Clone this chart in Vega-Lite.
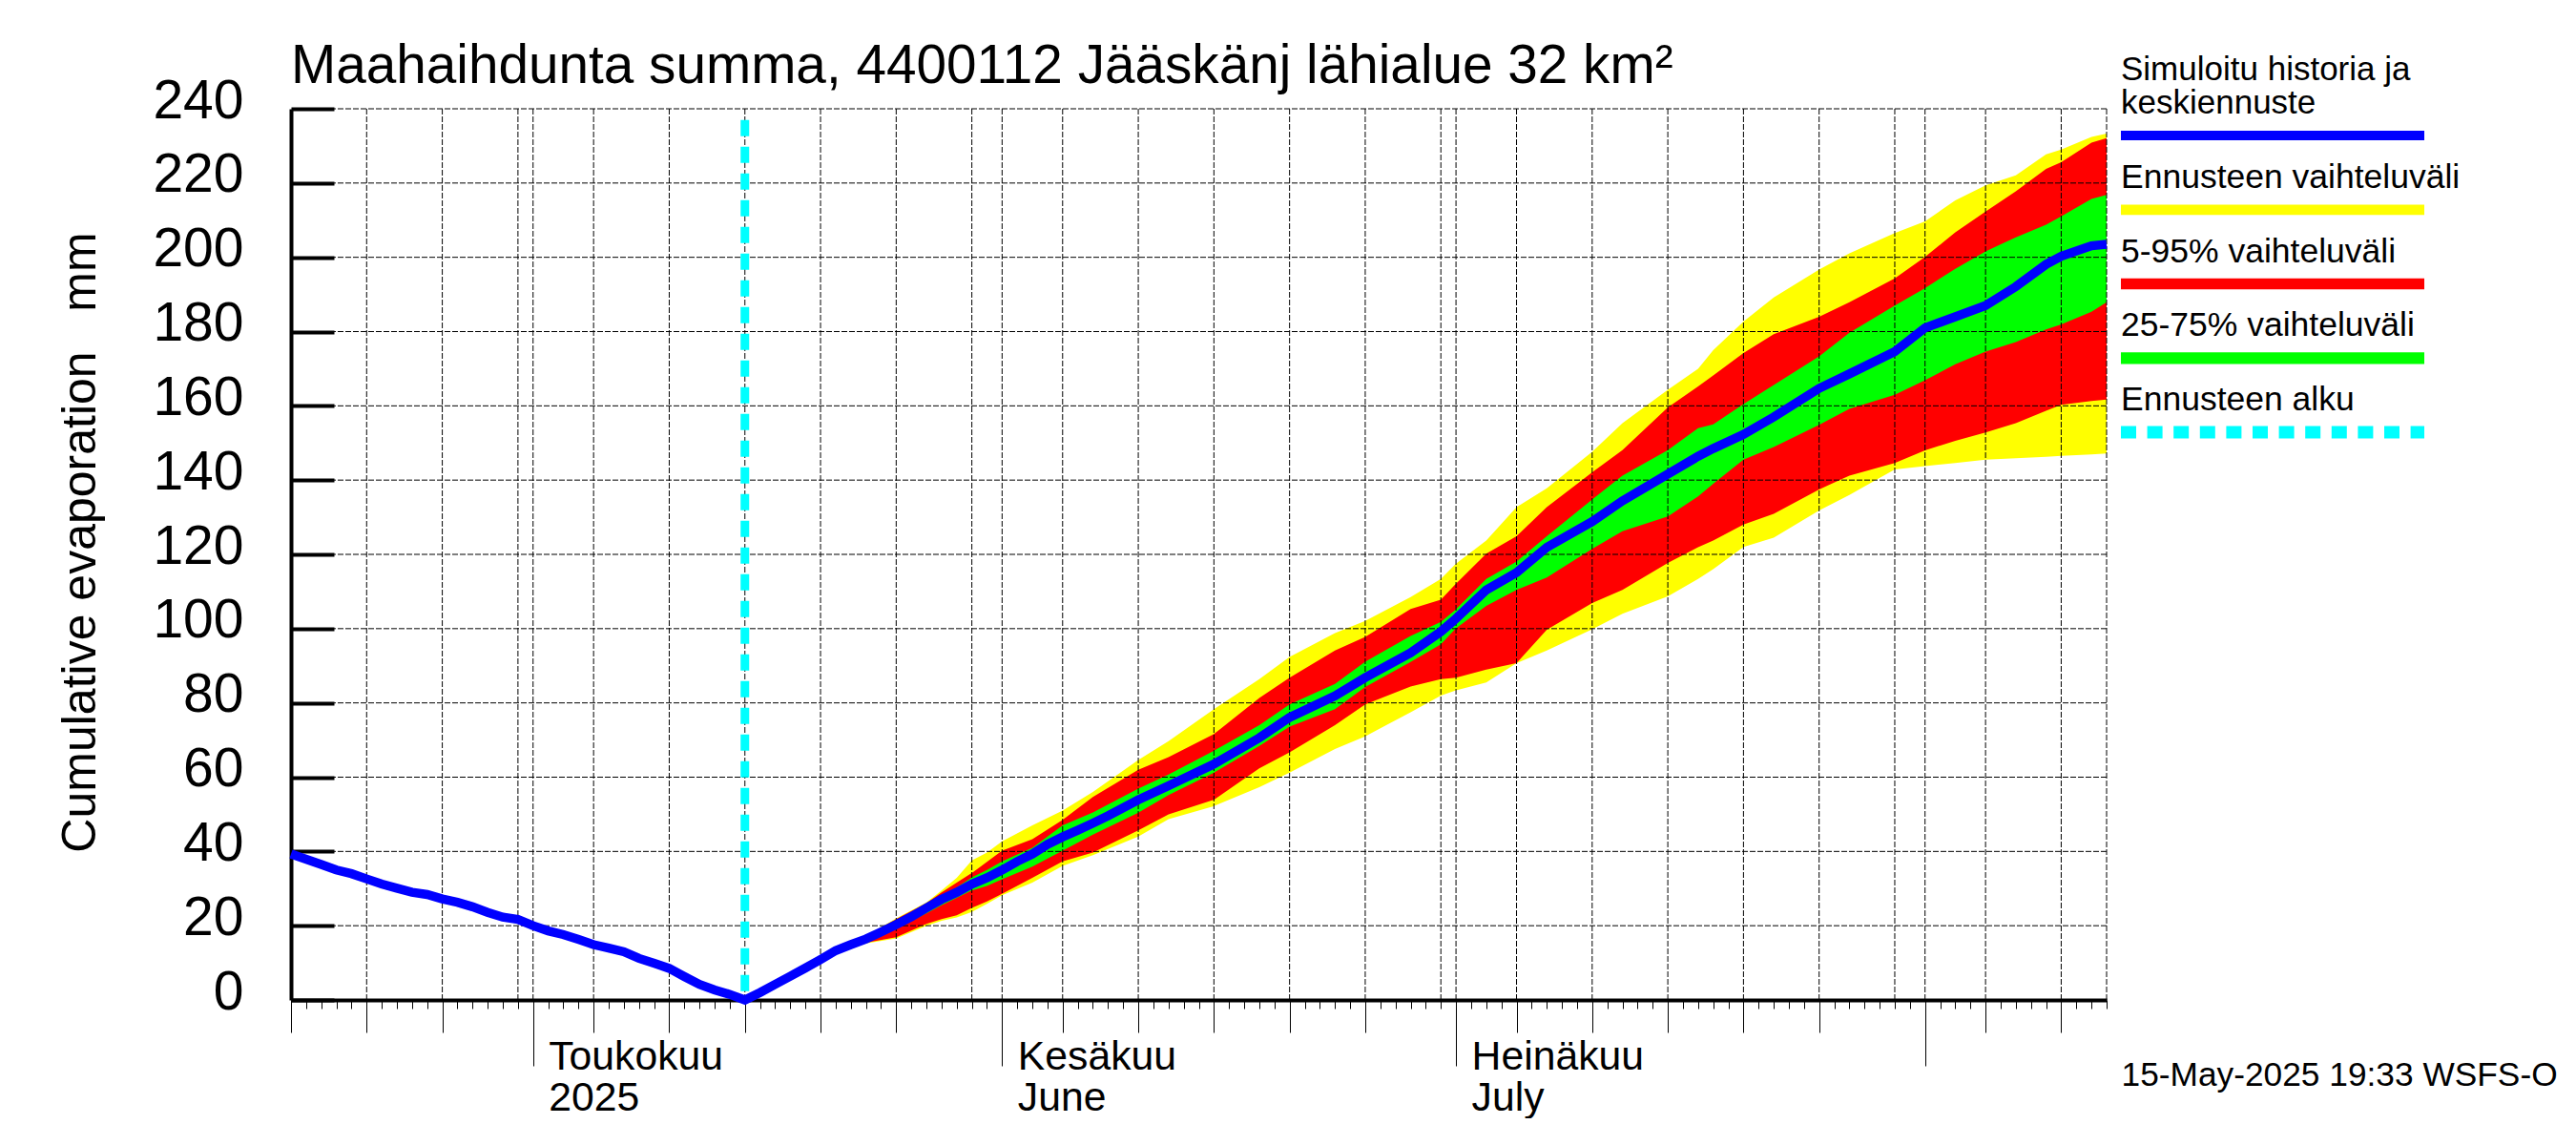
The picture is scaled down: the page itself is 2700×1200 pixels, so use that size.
{
  "$schema": "https://vega.github.io/schema/vega-lite/v6.json",
  "autosize": {"type": "pad"},
  "padding": {"left": 58, "top": 42, "right": 0, "bottom": 0},
  "background": "white",
  "config": {"font": "Liberation Sans", "view": {"stroke": null}},
  "datasets": {
    "simulated": [
      {"date": "2025-04-15", "value": 39.3}, {"date": "2025-04-16", "value": 37.9}, {"date": "2025-04-17", "value": 36.5},
      {"date": "2025-04-18", "value": 35.0}, {"date": "2025-04-19", "value": 34.0}, {"date": "2025-04-20", "value": 32.6},
      {"date": "2025-04-21", "value": 31.2}, {"date": "2025-04-22", "value": 30.1}, {"date": "2025-04-23", "value": 29.0},
      {"date": "2025-04-24", "value": 28.4}, {"date": "2025-04-25", "value": 27.2}, {"date": "2025-04-26", "value": 26.3},
      {"date": "2025-04-27", "value": 25.1}, {"date": "2025-04-28", "value": 23.6}, {"date": "2025-04-29", "value": 22.3},
      {"date": "2025-04-30", "value": 21.7}, {"date": "2025-05-01", "value": 20.0}, {"date": "2025-05-02", "value": 18.6},
      {"date": "2025-05-03", "value": 17.6}, {"date": "2025-05-04", "value": 16.3}, {"date": "2025-05-05", "value": 14.9},
      {"date": "2025-05-06", "value": 14.0}, {"date": "2025-05-07", "value": 13.0}, {"date": "2025-05-08", "value": 11.2},
      {"date": "2025-05-09", "value": 9.9}, {"date": "2025-05-10", "value": 8.5}, {"date": "2025-05-11", "value": 6.3},
      {"date": "2025-05-12", "value": 4.2}, {"date": "2025-05-13", "value": 2.7}, {"date": "2025-05-14", "value": 1.5},
      {"date": "2025-05-15", "value": 0}, {"date": "2025-05-16", "value": 2.0}, {"date": "2025-05-17", "value": 4.2},
      {"date": "2025-05-18", "value": 6.4}, {"date": "2025-05-19", "value": 8.6}, {"date": "2025-05-20", "value": 10.9},
      {"date": "2025-05-21", "value": 13.3}, {"date": "2025-05-22", "value": 14.9}, {"date": "2025-05-23", "value": 16.4},
      {"date": "2025-05-24", "value": 18.3}, {"date": "2025-05-25", "value": 20.3}, {"date": "2025-05-26", "value": 22.4},
      {"date": "2025-05-27", "value": 24.8}, {"date": "2025-05-28", "value": 27.1}, {"date": "2025-05-29", "value": 29.0},
      {"date": "2025-05-30", "value": 31.2}, {"date": "2025-05-31", "value": 32.9}, {"date": "2025-06-01", "value": 35.0},
      {"date": "2025-06-02", "value": 37.3}, {"date": "2025-06-03", "value": 39.3}, {"date": "2025-06-04", "value": 41.9},
      {"date": "2025-06-05", "value": 43.9}, {"date": "2025-06-06", "value": 45.7}, {"date": "2025-06-07", "value": 47.6},
      {"date": "2025-06-08", "value": 49.6}, {"date": "2025-06-10", "value": 53.9}, {"date": "2025-06-12", "value": 57.7},
      {"date": "2025-06-15", "value": 63.5}, {"date": "2025-06-18", "value": 70.6}, {"date": "2025-06-20", "value": 76.1},
      {"date": "2025-06-23", "value": 81.9}, {"date": "2025-06-25", "value": 86.8}, {"date": "2025-06-28", "value": 93.5},
      {"date": "2025-06-30", "value": 99.2}, {"date": "2025-07-01", "value": 102.7}, {"date": "2025-07-03", "value": 110.4},
      {"date": "2025-07-05", "value": 115.1}, {"date": "2025-07-07", "value": 121.9}, {"date": "2025-07-10", "value": 128.8},
      {"date": "2025-07-12", "value": 134.4}, {"date": "2025-07-15", "value": 141.6}, {"date": "2025-07-17", "value": 146.4},
      {"date": "2025-07-18", "value": 148.5}, {"date": "2025-07-20", "value": 152.3}, {"date": "2025-07-22", "value": 157.0},
      {"date": "2025-07-25", "value": 164.7}, {"date": "2025-07-27", "value": 168.6}, {"date": "2025-07-30", "value": 174.6},
      {"date": "2025-08-01", "value": 181.0}, {"date": "2025-08-03", "value": 184.0}, {"date": "2025-08-05", "value": 187.0},
      {"date": "2025-08-07", "value": 192.1}, {"date": "2025-08-09", "value": 198.1}, {"date": "2025-08-10", "value": 200.3},
      {"date": "2025-08-12", "value": 203.1}, {"date": "2025-08-13", "value": 203.5}
    ],
    "bands": [
      {"date": "2025-05-21", "low": 12.4, "p5": 12.5, "p25": 12.9, "p75": 13.6, "p95": 13.7, "high": 13.8},
      {"date": "2025-05-23", "low": 15.2, "p5": 15.4, "p25": 15.9, "p75": 16.9, "p95": 17.1, "high": 17.3},
      {"date": "2025-05-25", "low": 16.6, "p5": 16.9, "p25": 19.2, "p75": 21.0, "p95": 21.8, "high": 22.0},
      {"date": "2025-05-27", "low": 20.0, "p5": 20.5, "p25": 23.3, "p75": 25.6, "p95": 26.1, "high": 26.3},
      {"date": "2025-05-28", "low": 21.3, "p5": 21.8, "p25": 25.5, "p75": 28.0, "p95": 29.0, "high": 29.5},
      {"date": "2025-05-29", "low": 22.2, "p5": 22.8, "p25": 27.5, "p75": 30.3, "p95": 31.6, "high": 32.9},
      {"date": "2025-05-30", "low": 23.7, "p5": 24.8, "p25": 29.5, "p75": 33.0, "p95": 34.2, "high": 37.6},
      {"date": "2025-05-31", "low": 25.9, "p5": 26.5, "p25": 30.7, "p75": 35.0, "p95": 37.2, "high": 39.7},
      {"date": "2025-06-01", "low": 28.2, "p5": 28.6, "p25": 32.5, "p75": 37.3, "p95": 40.2, "high": 42.7},
      {"date": "2025-06-03", "low": 31.6, "p5": 32.9, "p25": 35.9, "p75": 41.0, "p95": 43.3, "high": 47.0},
      {"date": "2025-06-05", "low": 36.1, "p5": 37.3, "p25": 40.2, "p75": 47.0, "p95": 48.5, "high": 51.0},
      {"date": "2025-06-07", "low": 39.0, "p5": 39.7, "p25": 44.5, "p75": 50.5, "p95": 54.7, "high": 56.0},
      {"date": "2025-06-10", "low": 44.0, "p5": 45.7, "p25": 50.4, "p75": 56.9, "p95": 62.0, "high": 64.6},
      {"date": "2025-06-12", "low": 48.7, "p5": 50.0, "p25": 55.2, "p75": 60.7, "p95": 65.4, "high": 69.7},
      {"date": "2025-06-15", "low": 52.2, "p5": 53.9, "p25": 61.2, "p75": 67.1, "p95": 71.6, "high": 78.3},
      {"date": "2025-06-18", "low": 57.3, "p5": 62.4, "p25": 68.4, "p75": 74.0, "p95": 81.3, "high": 86.4},
      {"date": "2025-06-20", "low": 61.2, "p5": 66.7, "p25": 73.6, "p75": 79.6, "p95": 86.8, "high": 92.4},
      {"date": "2025-06-23", "low": 67.6, "p5": 74.0, "p25": 78.3, "p75": 85.1, "p95": 94.1, "high": 98.8},
      {"date": "2025-06-25", "low": 71.0, "p5": 79.6, "p25": 84.3, "p75": 91.1, "p95": 97.8, "high": 102.1},
      {"date": "2025-06-28", "low": 77.5, "p5": 84.4, "p25": 91.0, "p75": 98.0, "p95": 105.3, "high": 108.5},
      {"date": "2025-06-30", "low": 82.0, "p5": 86.4, "p25": 95.8, "p75": 101.8, "p95": 107.8, "high": 113.4},
      {"date": "2025-07-01", "low": 83.4, "p5": 86.8, "p25": 100.1, "p75": 105.2, "p95": 112.1, "high": 117.5},
      {"date": "2025-07-03", "low": 85.5, "p5": 89.0, "p25": 106.1, "p75": 113.4, "p95": 120.2, "high": 123.7},
      {"date": "2025-07-05", "low": 90.7, "p5": 90.7, "p25": 110.4, "p75": 118.1, "p95": 124.9, "high": 132.7},
      {"date": "2025-07-07", "low": 94.1, "p5": 99.7, "p25": 113.8, "p75": 124.9, "p95": 132.7, "high": 137.8},
      {"date": "2025-07-10", "low": 99.8, "p5": 106.9, "p25": 121.5, "p75": 134.8, "p95": 142.1, "high": 147.6},
      {"date": "2025-07-12", "low": 104.0, "p5": 110.4, "p25": 126.2, "p75": 141.2, "p95": 148.1, "high": 155.3},
      {"date": "2025-07-15", "low": 108.7, "p5": 117.7, "p25": 130.2, "p75": 148.1, "p95": 159.6, "high": 164.3},
      {"date": "2025-07-17", "low": 113.4, "p5": 121.9, "p25": 135.6, "p75": 154.0, "p95": 165.2, "high": 170.0},
      {"date": "2025-07-18", "low": 116.0, "p5": 123.7, "p25": 139.0, "p75": 155.0, "p95": 168.2, "high": 175.0},
      {"date": "2025-07-20", "low": 122.0, "p5": 128.0, "p25": 145.5, "p75": 160.5, "p95": 174.2, "high": 182.7},
      {"date": "2025-07-22", "low": 124.5, "p5": 130.9, "p25": 148.9, "p75": 165.6, "p95": 179.3, "high": 189.2},
      {"date": "2025-07-25", "low": 131.8, "p5": 137.5, "p25": 154.9, "p75": 173.3, "p95": 184.0, "high": 196.7},
      {"date": "2025-07-27", "low": 136.0, "p5": 141.2, "p25": 159.2, "p75": 179.7, "p95": 187.9, "high": 201.1},
      {"date": "2025-07-30", "low": 142.9, "p5": 144.6, "p25": 163.0, "p75": 187.0, "p95": 194.3, "high": 206.5},
      {"date": "2025-08-01", "low": 143.8, "p5": 148.0, "p25": 166.9, "p75": 191.7, "p95": 200.1, "high": 209.7},
      {"date": "2025-08-03", "low": 144.6, "p5": 150.6, "p25": 171.2, "p75": 196.9, "p95": 206.7, "high": 215.3},
      {"date": "2025-08-05", "low": 145.5, "p5": 152.8, "p25": 174.6, "p75": 201.6, "p95": 212.3, "high": 219.4},
      {"date": "2025-08-07", "low": 145.9, "p5": 155.3, "p25": 177.2, "p75": 205.4, "p95": 217.8, "high": 222.1},
      {"date": "2025-08-09", "low": 146.3, "p5": 158.7, "p25": 180.6, "p75": 208.8, "p95": 223.8, "high": 227.7},
      {"date": "2025-08-10", "low": 146.5, "p5": 160.3, "p25": 181.9, "p75": 211.0, "p95": 225.6, "high": 229.0},
      {"date": "2025-08-12", "low": 146.9, "p5": 161.3, "p25": 185.3, "p75": 215.7, "p95": 230.9, "high": 232.4},
      {"date": "2025-08-13", "low": 147.2, "p5": 161.7, "p25": 187.9, "p75": 216.8, "p95": 232.1, "high": 233.3}
    ],
    "gridDates": [
      {"date": "2025-04-20"}, {"date": "2025-04-25"}, {"date": "2025-04-30"}, {"date": "2025-05-01"}, {"date": "2025-05-05"},
      {"date": "2025-05-10"}, {"date": "2025-05-15"}, {"date": "2025-05-20"}, {"date": "2025-05-25"}, {"date": "2025-05-30"},
      {"date": "2025-06-01"}, {"date": "2025-06-05"}, {"date": "2025-06-10"}, {"date": "2025-06-15"}, {"date": "2025-06-20"},
      {"date": "2025-06-25"}, {"date": "2025-06-30"}, {"date": "2025-07-01"}, {"date": "2025-07-05"}, {"date": "2025-07-10"},
      {"date": "2025-07-15"}, {"date": "2025-07-20"}, {"date": "2025-07-25"}, {"date": "2025-07-30"}, {"date": "2025-08-01"},
      {"date": "2025-08-05"}, {"date": "2025-08-10"}, {"date": "2025-08-13"}
    ],
    "gridValues": [
      {"value": 20}, {"value": 40}, {"value": 60}, {"value": 80}, {"value": 100}, {"value": 120},
      {"value": 140}, {"value": 160}, {"value": 180}, {"value": 200}, {"value": 220}, {"value": 240}
    ],
    "forecastStart": [{"date": "2025-05-15", "top": 237, "bottom": 0}],
    "legendRows": [
      {"series": "history", "label": "Simuloitu historia ja\nkeskiennuste"},
      {"series": "range", "label": "Ennusteen vaihteluväli"},
      {"series": "p5_95", "label": "5-95% vaihteluväli"},
      {"series": "p25_75", "label": "25-75% vaihteluväli"},
      {"series": "start", "label": "Ennusteen alku"}
    ]
  },
  "bounds": "flush",
  "spacing": 15,
  "hconcat": [
    {
      "width": 1903,
      "height": 934,
      "title": {
        "text": "Maahaihdunta summa, 4400112 Jääskänj lähialue 32 km²",
        "anchor": "start",
        "frame": "group",
        "font": "Liberation Sans",
        "fontSize": 56.7,
        "fontWeight": "normal",
        "baseline": "alphabetic",
        "offset": -67
      },
      "resolve": {"axis": {"x": "independent", "y": "independent"}},
      "layer": [
        {
          "data": {"name": "bands"},
          "mark": {"type": "area", "color": "#ffff00", "interpolate": "linear"},
          "encoding": {
            "x": {
              "field": "date",
              "type": "temporal",
              "scale": {"type": "utc", "domain": ["2025-04-15", "2025-08-13"]},
              "axis": {
                "orient": "bottom",
                "tickCount": {"interval": "day", "step": 1},
                "tickSize": 9,
                "tickWidth": 1,
                "tickColor": "black",
                "labels": false,
                "title": null,
                "grid": false,
                "domain": true,
                "domainColor": "black",
                "domainWidth": 4
              }
            },
            "y": {
              "field": "low",
              "type": "quantitative",
              "scale": {"domain": [0, 240], "nice": false},
              "axis": {
                "orient": "left",
                "values": [0, 20, 40, 60, 80, 100, 120, 140, 160, 180, 200, 220, 240],
                "tickSize": -45,
                "tickWidth": 4,
                "tickColor": "black",
                "domain": true,
                "domainColor": "black",
                "domainWidth": 4,
                "grid": false,
                "labelFont": "Liberation Sans",
                "labelFontSize": 57,
                "labelColor": "black",
                "labelPadding": 95,
                "labelOffset": -8,
                "labelOverlap": false,
                "labelBound": false,
                "labelFlush": false,
                "title": "Cumulative evaporation\u00a0\u00a0\u00a0mm",
                "titleFont": "Liberation Sans",
                "titleFontSize": 50,
                "titleFontWeight": "normal",
                "titleColor": "black",
                "titleAngle": -90,
                "titleBaseline": "alphabetic",
                "titleX": -206,
                "titleY": 454
              }
            },
            "y2": {"field": "high"}
          }
        },
        {
          "data": {"name": "bands"},
          "mark": {"type": "area", "color": "#ff0000", "interpolate": "linear"},
          "encoding": {
            "x": {"field": "date", "type": "temporal", "axis": null},
            "y": {"field": "p5", "type": "quantitative", "axis": null},
            "y2": {"field": "p95"}
          }
        },
        {
          "data": {"name": "bands"},
          "mark": {"type": "area", "color": "#00ff00", "interpolate": "linear"},
          "encoding": {
            "x": {"field": "date", "type": "temporal", "axis": null},
            "y": {"field": "p25", "type": "quantitative", "axis": null},
            "y2": {"field": "p75"}
          }
        },
        {
          "data": {"name": "gridValues"},
          "mark": {"type": "rule", "color": "black", "strokeWidth": 1, "strokeDash": [6, 2]},
          "encoding": {"y": {"field": "value", "type": "quantitative", "axis": null}}
        },
        {
          "data": {"name": "gridDates"},
          "mark": {"type": "rule", "color": "black", "strokeWidth": 1, "strokeDash": [6, 2]},
          "encoding": {
            "x": {
              "field": "date",
              "type": "temporal",
              "axis": {
                "orient": "bottom",
                "values": [
                  "2025-04-15", "2025-04-20", "2025-04-25", "2025-05-05", "2025-05-10", "2025-05-15", "2025-05-20", "2025-05-25",
                  "2025-06-05", "2025-06-10", "2025-06-15", "2025-06-20", "2025-06-25",
                  "2025-07-05", "2025-07-10", "2025-07-15", "2025-07-20", "2025-07-25",
                  "2025-08-05", "2025-08-10"
                ],
                "tickSize": 34,
                "tickWidth": 1,
                "tickColor": "black",
                "labels": false,
                "title": null,
                "grid": false,
                "domain": false
              }
            }
          }
        },
        {
          "data": {"name": "forecastStart"},
          "mark": {"type": "rule", "color": "#00ffff", "strokeWidth": 9, "strokeDash": [17, 11]},
          "encoding": {
            "x": {"field": "date", "type": "temporal", "axis": null},
            "y": {"field": "top", "type": "quantitative", "axis": null},
            "y2": {"field": "bottom"}
          }
        },
        {
          "data": {"name": "simulated"},
          "mark": {"type": "line", "color": "#0000ff", "strokeWidth": 9.5, "interpolate": "linear", "clip": false},
          "encoding": {
            "x": {
              "field": "date",
              "type": "temporal",
              "axis": {
                "orient": "bottom",
                "tickCount": {"interval": "month", "step": 1},
                "tickSize": 69,
                "tickWidth": 1,
                "tickColor": "black",
                "title": null,
                "grid": false,
                "domain": false,
                "labelFont": "Liberation Sans",
                "labelFontSize": 42.7,
                "labelColor": "black",
                "labelAlign": "left",
                "labelBaseline": "alphabetic",
                "labelPadding": 3,
                "labelOffset": 16,
                "labelLineHeight": 43,
                "labelLimit": 0,
                "labelOverlap": false,
                "labelBound": false,
                "labelFlush": false,
                "labelExpr": "utcmonth(datum.value) == 4 ? ['Toukokuu', '2025'] : utcmonth(datum.value) == 5 ? ['Kesäkuu', 'June'] : utcmonth(datum.value) == 6 ? ['Heinäkuu', 'July'] : ''"
              }
            },
            "y": {"field": "value", "type": "quantitative", "axis": null}
          }
        }
      ]
    },
    {
      "width": 318,
      "height": 934,
      "data": {"name": "legendRows"},
      "layer": [
        {
          "mark": {"type": "rule", "strokeCap": "butt"},
          "encoding": {
            "x": {
              "datum": 0,
              "type": "quantitative",
              "scale": {"domain": [0, 1]},
              "axis": {
                "orient": "bottom",
                "domain": false,
                "ticks": false,
                "labels": false,
                "grid": false,
                "title": "15-May-2025 19:33 WSFS-O",
                "titleFont": "Liberation Sans",
                "titleFontSize": 35.3,
                "titleFontWeight": "normal",
                "titleColor": "black",
                "titleAlign": "left",
                "titleBaseline": "alphabetic",
                "titleLimit": 0,
                "titleX": 0,
                "titleY": 89
              }
            },
            "x2": {"datum": 1},
            "y": {
              "field": "series",
              "type": "nominal",
              "sort": null,
              "scale": {
                "type": "point",
                "padding": 0,
                "domain": ["history", "range", "p5_95", "p25_75", "start"],
                "range": [28, 339]
              },
              "axis": null
            },
            "stroke": {
              "field": "series",
              "type": "nominal",
              "scale": {
                "domain": ["history", "range", "p5_95", "p25_75", "start"],
                "range": ["#0000ff", "#ffff00", "#ff0000", "#00ff00", "#00ffff"]
              },
              "legend": null
            },
            "strokeWidth": {
              "field": "series",
              "type": "nominal",
              "scale": {
                "domain": ["history", "range", "p5_95", "p25_75", "start"],
                "range": [10, 13, 13, 14, 10]
              },
              "legend": null
            },
            "strokeDash": {
              "field": "series",
              "type": "nominal",
              "scale": {
                "domain": ["history", "range", "p5_95", "p25_75", "start"],
                "range": [[1, 0], [1, 0], [1, 0], [1, 0], [16, 11.6]]
              },
              "legend": null
            }
          }
        },
        {
          "transform": [{"filter": "datum.series != 'history'"}],
          "mark": {
            "type": "text",
            "align": "left",
            "baseline": "alphabetic",
            "dy": -23,
            "font": "Liberation Sans",
            "fontSize": 35.5,
            "color": "black"
          },
          "encoding": {
            "x": {"datum": 0, "type": "quantitative"},
            "y": {"field": "series", "type": "nominal", "sort": null, "axis": null},
            "text": {"field": "label", "type": "nominal"}
          }
        },
        {
          "transform": [{"filter": "datum.series == 'history'"}],
          "mark": {
            "type": "text",
            "align": "left",
            "baseline": "alphabetic",
            "lineBreak": "\n",
            "lineHeight": 35,
            "dy": -58,
            "font": "Liberation Sans",
            "fontSize": 35,
            "color": "black"
          },
          "encoding": {
            "x": {"datum": 0, "type": "quantitative"},
            "y": {"field": "series", "type": "nominal", "sort": null, "axis": null},
            "text": {"field": "label", "type": "nominal"}
          }
        }
      ]
    }
  ]
}
